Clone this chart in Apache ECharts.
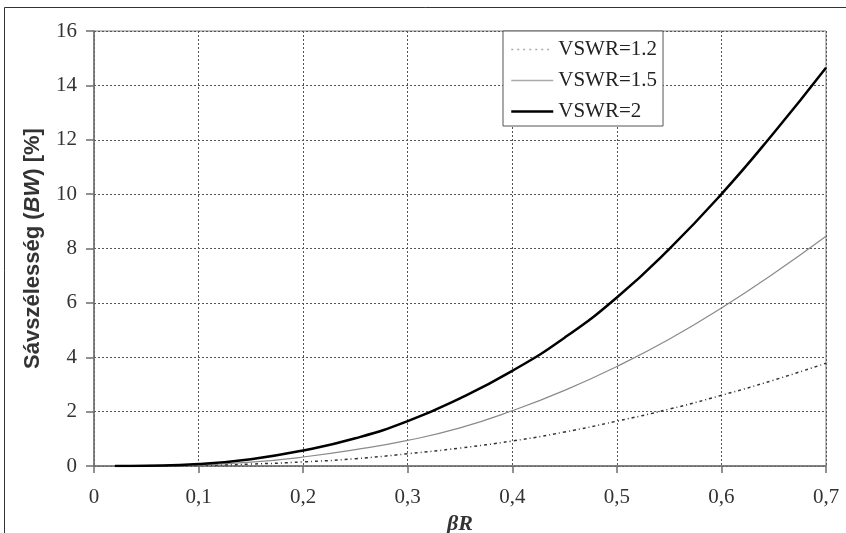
<!DOCTYPE html>
<html>
<head>
<meta charset="utf-8">
<script src="https://cdn.jsdelivr.net/npm/echarts@6/dist/echarts.min.js"></script>
<style>
html,body{margin:0;padding:0;background:#fff;}
#chart{width:846px;height:533px;}
</style>
</head>
<body>
<div id="chart"></div>
<script>
const betaR = [0.02, 0.05, 0.1, 0.15, 0.2, 0.25, 0.3, 0.35, 0.4, 0.45, 0.5, 0.55, 0.6, 0.65, 0.7];
const vswr12 = [0, 0.005, 0.02, 0.07, 0.15, 0.27, 0.45, 0.66, 0.92, 1.25, 1.65, 2.09, 2.6, 3.16, 3.78];
const vswr15 = [0, 0.01, 0.04, 0.14, 0.33, 0.6, 0.94, 1.4, 2.03, 2.78, 3.66, 4.66, 5.81, 7.08, 8.45];
const vswr2  = [0, 0.01, 0.07, 0.25, 0.57, 1.02, 1.65, 2.49, 3.5, 4.72, 6.2, 7.98, 10.0, 12.25, 14.65];
const seriesNames = ['VSWR=1.2', 'VSWR=1.5', 'VSWR=2'];
const xTicks = [0, 0.1, 0.2, 0.3, 0.4, 0.5, 0.6, 0.7];
const yTicks = [0, 2, 4, 6, 8, 10, 12, 14, 16];

const pairs = arr => betaR.map((x, i) => [x, arr[i]]);
const serif = '"Liberation Serif", "Times New Roman", serif';
const sans = '"Liberation Sans", Arial, sans-serif';

const chart = echarts.init(document.getElementById('chart'), null, {renderer: 'canvas'});
chart.setOption({
  animation: false,
  backgroundColor: '#fff',
  graphic: [{
    type: 'rect',
    shape: {x: 4.5, y: 7.5, width: 900, height: 600},
    style: {fill: 'none', stroke: '#333', lineWidth: 1},
    silent: true, z: -10
  }],
  grid: {
    left: 94, right: 20, top: 31, bottom: 67,
    containLabel: false, outerBoundsMode: 'none',
    show: true, borderColor: '#808080', borderWidth: 1, backgroundColor: 'transparent'
  },
  legend: {
    orient: 'vertical',
    left: 503, top: 31,
    data: [
      {name: seriesNames[0], lineStyle: {color: '#aaa', width: 1.5, type: [2, 4]}},
      {name: seriesNames[1], lineStyle: {color: '#aaa', width: 1.5}},
      {name: seriesNames[2], lineStyle: {color: '#000', width: 2.5}}
    ],
    itemWidth: 42, itemHeight: 14, itemGap: 10,
    itemStyle: {opacity: 0, borderWidth: 0},
    padding: [8, 6, 4, 7],
    backgroundColor: '#fff',
    borderColor: '#555', borderWidth: 1,
    textStyle: {fontFamily: serif, fontSize: 21, color: '#222'}
  },
  xAxis: {
    type: 'value', min: 0, max: 0.7, interval: 0.1,
    name: 'βR', nameLocation: 'middle', nameGap: 44,
    nameTextStyle: {fontFamily: serif, fontStyle: 'italic', fontWeight: 'bold', fontSize: 22, color: '#333'},
    axisLine: {show: true, onZero: false, lineStyle: {color: '#6e6e6e', width: 1.5}},
    axisTick: {show: true, inside: false, length: 7, lineStyle: {color: '#6e6e6e', width: 1.5}},
    axisLabel: {
      margin: 21, fontFamily: serif, fontSize: 21, color: '#333',
      formatter: v => {
        const t = xTicks.find(k => Math.abs(k - v) < 1e-9);
        return t === 0 ? '0' : (t !== undefined ? t.toFixed(1).replace('.', ',') : '');
      }
    },
    splitLine: {show: true, lineStyle: {color: '#555', type: [2, 2], width: 1}}
  },
  yAxis: {
    type: 'value', min: 0, max: 16, interval: 2,
    name: '{a|Sávszélesség (}{b|BW}{a|) [%]}',
    nameLocation: 'middle', nameRotate: 90, nameGap: 50,
    nameTextStyle: {
      rich: {
        a: {fontFamily: sans, fontWeight: 'bold', fontSize: 22, color: '#333'},
        b: {fontFamily: sans, fontWeight: 'bold', fontStyle: 'italic', fontSize: 22, color: '#333'}
      }
    },
    axisLine: {show: true, lineStyle: {color: '#6e6e6e', width: 1.5}},
    axisTick: {show: true, inside: false, length: 8, lineStyle: {color: '#6e6e6e', width: 1.5}},
    axisLabel: {
      margin: 17, fontFamily: serif, fontSize: 21, color: '#333',
      formatter: v => String(yTicks.find(k => Math.abs(k - v) < 1e-9))
    },
    splitLine: {show: true, lineStyle: {color: '#555', type: [2, 2], width: 1}}
  },
  series: [
    {
      name: seriesNames[0], type: 'line', data: pairs(vswr12), smooth: true,
      showSymbol: false, symbol: 'none',
      lineStyle: {color: '#333', width: 1.5, type: [3, 3, 1, 3]},
      itemStyle: {color: '#333'}, z: 3
    },
    {
      name: seriesNames[1], type: 'line', data: pairs(vswr15), smooth: true,
      showSymbol: false, symbol: 'none',
      lineStyle: {color: '#8a8a8a', width: 1.2},
      itemStyle: {color: '#8a8a8a'}, z: 4
    },
    {
      name: seriesNames[2], type: 'line', data: pairs(vswr2), smooth: true,
      showSymbol: false, symbol: 'none',
      lineStyle: {color: '#000', width: 2.5},
      itemStyle: {color: '#000'}, z: 5
    }
  ]
});
</script>
</body>
</html>
